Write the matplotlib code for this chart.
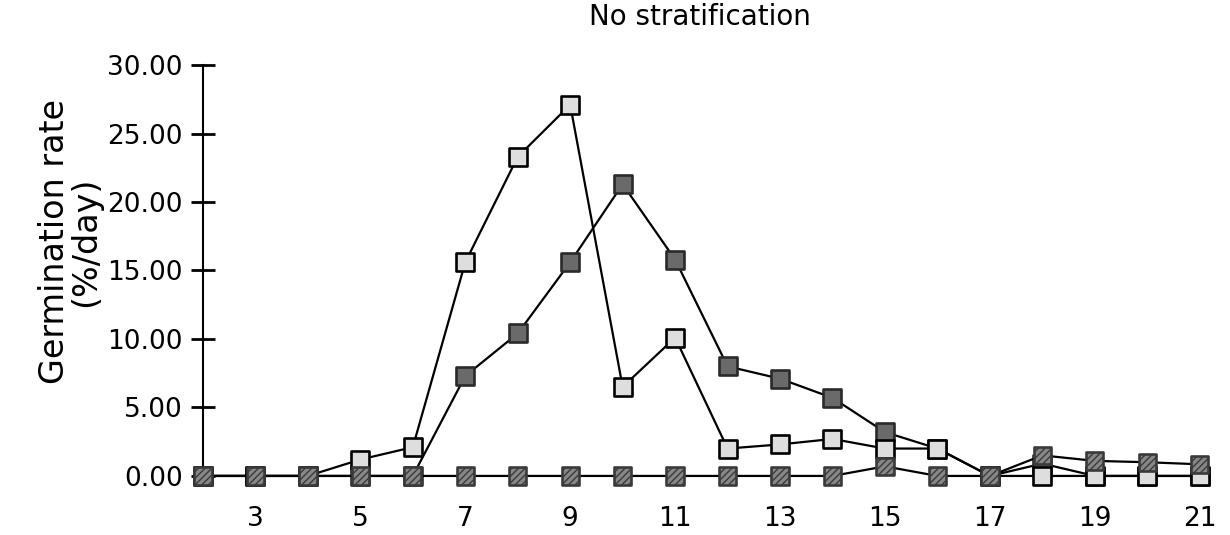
import matplotlib
matplotlib.use("Agg")
import matplotlib.pyplot as plt

# germination rate per day, three seed lots
days = list(range(2, 22))
light = [0, 0, 0, 1.2, 2.1, 15.6, 23.3, 27.1, 6.5, 10.1,
         2.0, 2.3, 2.7, 2.0, 2.0, 0, 0, 0, 0, 0]
dark = [0, 0, 0, 0, 0, 7.3, 10.4, 15.6, 21.3, 15.8,
        8.0, 7.1, 5.7, 3.2, 2.0, 0, 0.9, 0, 0, 0]
hatched = [0, 0, 0, 0, 0, 0, 0, 0, 0, 0,
           0, 0, 0, 0.7, 0, 0, 1.5, 1.1, 1.0, 0.85]

yticks = [0, 5, 10, 15, 20, 25, 30]
xticks = list(range(3, 22, 2))
title = "No stratification"
ylabel = "Germination rate\n(%/day)"

plt.rcParams["font.family"] = ["DejaVu Sans"]
plt.rcParams["hatch.color"] = "#d0d0d0"
plt.rcParams["hatch.linewidth"] = 1.0

fig = plt.figure(figsize=(12.3, 5.35), dpi=100)
ax = fig.add_axes([0.1437, 0.072, 0.853, 0.832])

series = [
    (dark, "#6a6a6a", "#2a2a2a", None, 2),
    (light, "#dedede", "black", None, 3),
    (hatched, "#878787", "#3a3a3a", "/////", 4),
]
for vals, face, edge, hatch, z in series:
    ax.plot(days, vals, color="black", lw=1.6, zorder=z)
    ax.scatter(days, vals, marker="s", s=155, facecolor=face, edgecolor=edge,
               linewidths=1.9, hatch=hatch, zorder=z + 0.5)

ax.set_xlim(1.5, 21.5)
ax.set_ylim(-1.5, 31)
for side in ("top", "right", "bottom"):
    ax.spines[side].set_visible(False)
ax.spines["left"].set_position(("data", 2))
ax.spines["left"].set_bounds(0, 30)
ax.spines["left"].set_linewidth(1.5)

ax.set_yticks(yticks)
ax.set_yticklabels([f"{v:.2f}" for v in yticks])
ax.tick_params(axis="y", direction="inout", length=17, width=2, pad=6,
               labelsize=19)
ax.set_xticks(xticks)
ax.tick_params(axis="x", length=0, pad=7, labelsize=19)

fig.text(0.569, 0.968, title, ha="center", va="center", fontsize=20)
fig.text(0.057, 0.548, ylabel, rotation=90, ha="center", va="center",
         multialignment="center", fontsize=24, linespacing=0.9)

fig.savefig("out.png", dpi=100)
plt.close(fig)
